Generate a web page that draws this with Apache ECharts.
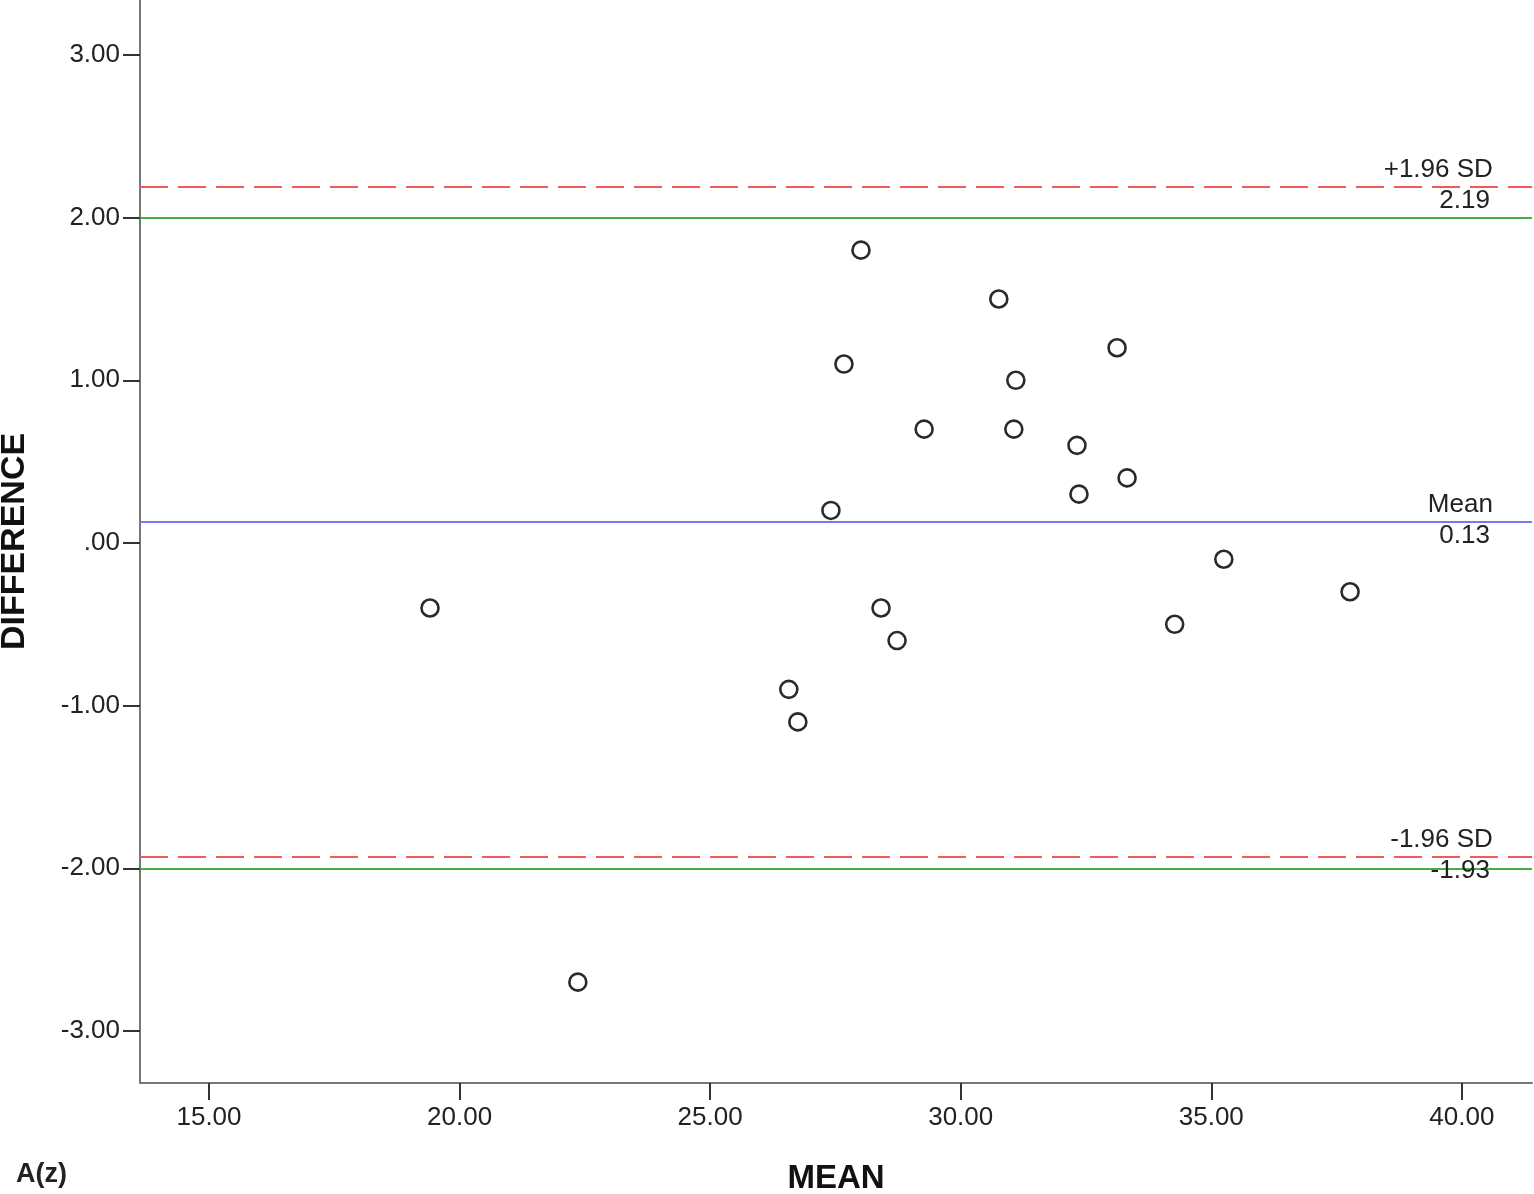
<!DOCTYPE html>
<html>
<head>
<meta charset="utf-8">
<script src="https://cdn.jsdelivr.net/npm/echarts@6/dist/echarts.min.js"></script>
<style>
html,body{margin:0;padding:0;background:#fff;}
#chart{width:1534px;height:1194px;}
</style>
</head>
<body>
<div id="chart"></div>
<script>
// Data (Bland-Altman plot)
const meanValues = [19.41, 22.36, 26.57, 26.75, 27.41, 27.67, 28.01, 28.41, 28.73, 29.27,
                    30.76, 31.06, 31.10, 32.32, 32.36, 33.12, 33.32, 34.27, 35.25, 37.77];
const diffValues = [-0.4, -2.7, -0.9, -1.1, 0.2, 1.1, 1.8, -0.4, -0.6, 0.7,
                    1.5, 0.7, 1.0, 0.6, 0.3, 1.2, 0.4, -0.5, -0.1, -0.3];
const xTicks = [15, 20, 25, 30, 35, 40];
const yTicks = [-3, -2, -1, 0, 1, 2, 3];
const upperLoA = 2.19;
const meanDiff = 0.13;
const lowerLoA = -1.93;
const limitLines = [2, -2];
const refNames = ['+1.96 SD', 'Mean', '-1.96 SD'];
const refValues = [upperLoA, meanDiff, lowerLoA];
const refLabelX = 40;

const FONT = '"Liberation Sans", Arial, sans-serif';

function fmtY(v) {
  const s = Math.abs(v).toFixed(2);
  const t = Math.abs(v) < 1 ? s.replace(/^0/, '') : s;
  return (v < 0 ? '-' : '') + t;
}

const chart = echarts.init(document.getElementById('chart'), null, {renderer: 'canvas'});

const refLabelData = [];
refValues.forEach((v, i) => {
  refLabelData.push({
    value: [refLabelX, v],
    label: {
      formatter: refNames[i], align: 'right', verticalAlign: 'bottom', offset: [31, -4]
    }
  });
  refLabelData.push({
    value: [refLabelX, v],
    label: {
      formatter: v.toFixed(2), align: 'right', verticalAlign: 'top', offset: [28, 1]
    }
  });
});

const option = {
  animation: false,
  backgroundColor: '#fff',
  title: {
    text: 'A(z)', left: 11, top: 1156,
    textStyle: {fontFamily: FONT, fontSize: 27, fontWeight: 'bold', color: '#222'}
  },
  grid: {left: 140, right: 2, top: 0, bottom: 111, containLabel: false, outerBoundsMode: 'none'},
  xAxis: {
    type: 'value', min: 13.623, max: 41.40,
    name: 'MEAN', nameLocation: 'middle', nameGap: 79, nameMoveOverlap: false,
    nameTextStyle: {fontFamily: FONT, fontSize: 33, fontWeight: 'bold', color: '#111'},
    axisLine: {show: true, onZero: false, lineStyle: {color: '#777', width: 2}},
    axisTick: {show: true, customValues: xTicks, length: 17, lineStyle: {color: '#333', width: 2}},
    axisLabel: {
      customValues: xTicks, margin: 22, fontFamily: FONT, fontSize: 26, color: '#222',
      formatter: v => v.toFixed(2)
    },
    splitLine: {show: false}
  },
  yAxis: {
    type: 'value', min: -3.32, max: 3.338,
    name: 'DIFFERENCE', nameLocation: 'middle', nameGap: 108, nameRotate: 90, nameMoveOverlap: false,
    nameTextStyle: {fontFamily: FONT, fontSize: 34, fontWeight: 'bold', color: '#111'},
    axisLine: {show: true, onZero: false, lineStyle: {color: '#777', width: 2}},
    axisTick: {show: true, customValues: yTicks, length: 17, lineStyle: {color: '#333', width: 2}},
    axisLabel: {
      customValues: yTicks, margin: 20, fontFamily: FONT, fontSize: 26, color: '#222',
      formatter: v => fmtY(v)
    },
    splitLine: {show: false}
  },
  series: [
    {
      type: 'scatter',
      name: 'points',
      data: meanValues.map((m, i) => [m, diffValues[i]]),
      symbol: 'circle',
      symbolSize: 17,
      itemStyle: {color: '#ffffff', borderColor: '#2a2a2a', borderWidth: 2.6, opacity: 1},
      z: 5,
      markLine: {
        silent: true,
        symbol: ['none', 'none'],
        label: {show: false},
        data: [
          {yAxis: limitLines[0], lineStyle: {color: '#44b044', width: 2, type: 'solid'}},
          {yAxis: limitLines[1], lineStyle: {color: '#44b044', width: 2, type: 'solid'}},
          {yAxis: upperLoA, lineStyle: {color: '#f05a5a', width: 2, type: [28, 10]}},
          {yAxis: lowerLoA, lineStyle: {color: '#f05a5a', width: 2, type: [28, 10]}},
          {yAxis: meanDiff, lineStyle: {color: '#7878f5', width: 2, type: 'solid'}}
        ]
      }
    },
    {
      type: 'scatter',
      name: 'refLabels',
      data: refLabelData,
      symbolSize: 0,
      silent: true,
      z: 6,
      itemStyle: {opacity: 1},
      label: {
        show: true, position: 'inside',
        fontFamily: FONT, fontSize: 26, color: '#222'
      }
    }
  ]
};

chart.setOption(option);
</script>
</body>
</html>
